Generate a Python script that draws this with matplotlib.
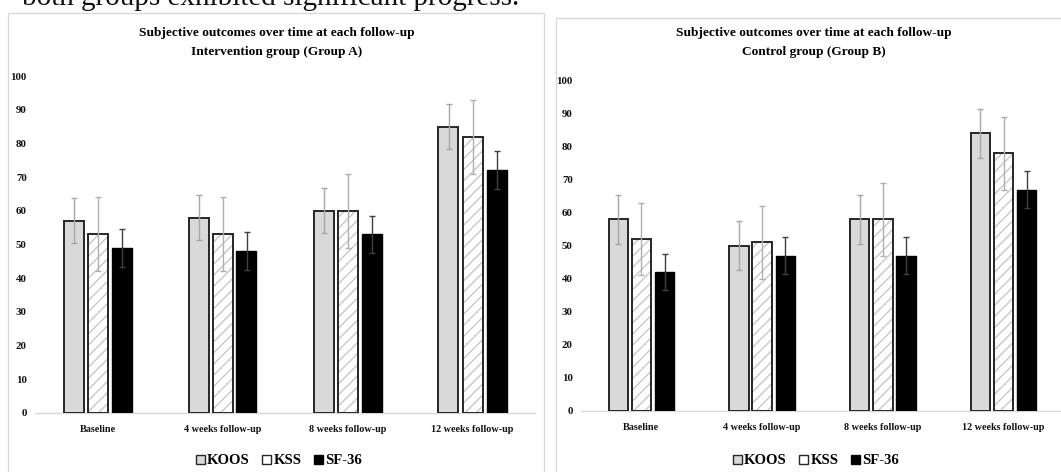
import numpy as np
import matplotlib
matplotlib.use("Agg")
import matplotlib.pyplot as plt
from matplotlib.patches import Patch, Rectangle

categories = ["Baseline", "4 weeks follow-up", "8 weeks follow-up", "12 weeks follow-up"]
series = ["KOOS", "KSS", "SF-36"]

# Group A (Intervention)
a_koos = [57, 58, 60, 85]
a_kss = [53, 53, 60, 82]
a_sf = [49, 48, 53, 72]
a_koos_err = [6.7, 6.7, 6.7, 6.7]
a_kss_err = [11, 11, 11, 11]
a_sf_err = [5.6, 5.6, 5.6, 5.6]

# Group B (Control)
b_koos = [58, 50, 58, 84]
b_kss = [52, 51, 58, 78]
b_sf = [42, 47, 47, 67]
b_koos_err = [7.4, 7.5, 7.4, 7.4]
b_kss_err = [11, 11, 11, 11]
b_sf_err = [5.5, 5.5, 5.5, 5.5]

yticks = [0, 10, 20, 30, 40, 50, 60, 70, 80, 90, 100]

W, H = 1061, 472
fig = plt.figure(figsize=(W / 100, H / 100), dpi=100)
SERIF = "Liberation Serif"

def px_rect(x0, y0, x1, y1):
    # pixel coords (top-left origin) -> figure fraction [l, b, w, h]
    return [x0 / W, 1 - y1 / H, (x1 - x0) / W, (y1 - y0) / H]

# clipped sentence from the surrounding document
fig.text(22 / W, 1 - 5 / H, "both groups exhibited significant progress.",
         fontsize=21, family=SERIF, ha="left", va="baseline", color="#111111")

# panel frames
for (x0, y0, x1, y1) in [(8, 13, 544, 480), (556, 18, 1075, 480)]:
    fig.patches.append(Rectangle((x0 / W, 1 - y1 / H), (x1 - x0) / W, (y1 - y0) / H,
                                 transform=fig.transFigure, fill=False,
                                 edgecolor="#d9d9d9", linewidth=1.0))

def draw_panel(rect, koos, kss, sf, ek, es, ef, title2, tcx, legcx):
    ax = fig.add_axes(px_rect(*rect))
    x = np.arange(len(categories))
    w = 0.16
    off = 0.192
    edge = "#262626"
    ax.bar(x - off, koos, w, color="#d9d9d9", edgecolor=edge, linewidth=1.4, zorder=2)
    ax.bar(x, kss, w, color="white", edgecolor="#c8c8c8", hatch="///", linewidth=0, zorder=2)
    ax.bar(x, kss, w, fill=False, edgecolor=edge, linewidth=1.4, zorder=3)
    ax.bar(x + off, sf, w, color="black", edgecolor="black", linewidth=1.0, zorder=2)
    ax.errorbar(x - off, koos, yerr=ek, fmt="none", ecolor="#a6a6a6", elinewidth=1,
                capsize=2, capthick=1, zorder=4)
    ax.errorbar(x, kss, yerr=es, fmt="none", ecolor="#b0b0b0", elinewidth=1,
                capsize=2, capthick=1, zorder=4)
    ax.errorbar(x + off, sf, yerr=ef, fmt="none", ecolor="#404040", elinewidth=1,
                capsize=2, capthick=1, zorder=4)
    ax.set_xlim(-0.5, len(categories) - 0.5)
    ax.set_ylim(0, 100)
    ax.set_yticks(yticks)
    ax.set_xticks(x)
    ax.set_xticklabels(categories)
    for s in ["top", "right", "left"]:
        ax.spines[s].set_visible(False)
    ax.spines["bottom"].set_color("#d9d9d9")
    ax.spines["bottom"].set_linewidth(1.0)
    ax.spines["bottom"].set_zorder(1)
    ax.tick_params(axis="both", length=0)
    ax.tick_params(axis="y", pad=6)
    ax.tick_params(axis="x", pad=9)
    for lab in ax.get_xticklabels():
        lab.set_fontfamily(SERIF)
        lab.set_fontweight("bold")
        lab.set_fontsize(7.3)
        lab.set_color("#111111")
    for lab in ax.get_yticklabels():
        lab.set_fontfamily(SERIF)
        lab.set_fontweight("bold")
        lab.set_fontsize(7.8)
        lab.set_color("#111111")
    ax.set_facecolor("none")
    fig.text(tcx / W, 1 - 33 / H, "Subjective outcomes over time at each follow-up",
             fontsize=9.6, family=SERIF, weight="bold", ha="center", va="center")
    fig.text(tcx / W, 1 - 52 / H, title2,
             fontsize=9.6, family=SERIF, weight="bold", ha="center", va="center")
    handles = [Patch(facecolor="#d9d9d9", edgecolor=edge, linewidth=1.0),
               Patch(facecolor="white", edgecolor=edge, linewidth=1.0),
               Patch(facecolor="black", edgecolor="black", linewidth=1.0)]
    fig.legend(handles, series, loc="center", bbox_to_anchor=(legcx / W, 1 - 461 / H),
               ncol=3, frameon=False, handlelength=0.6, handleheight=0.6,
               handletextpad=0.15, columnspacing=0.85, borderaxespad=0,
               prop={"family": SERIF, "weight": "bold", "size": 10.6})
    return ax

draw_panel((35, 76, 535, 413), a_koos, a_kss, a_sf, a_koos_err, a_kss_err, a_sf_err,
           "Intervention group (Group A)", 277, 279)
draw_panel((581, 80.7, 1064, 410.7), b_koos, b_kss, b_sf, b_koos_err, b_kss_err, b_sf_err,
           "Control group (Group B)", 814, 816)

fig.savefig("out.png", dpi=100)
